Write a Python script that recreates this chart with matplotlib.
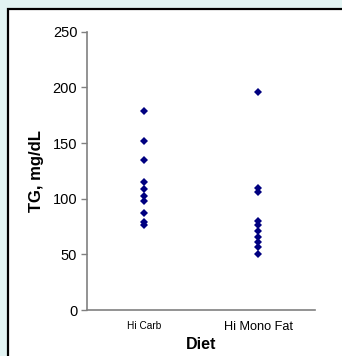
import matplotlib
matplotlib.use('Agg')
import matplotlib.pyplot as plt
from matplotlib.patches import Rectangle

plt.rcParams['font.family'] = ['Liberation Sans', 'DejaVu Sans']

# triglyceride values per diet
diets = ['Hi Carb', 'Hi Mono Fat']
hi_carb = [179, 152, 135, 115, 109, 102, 98, 87, 79, 76]
hi_mono_fat = [196, 110, 106, 80, 76, 71, 66, 61, 57, 50]
yticks = [0, 50, 100, 150, 200, 250]

fig = plt.figure(figsize=(3.42, 3.56), dpi=100)
fig.patch.set_facecolor('#e2f4f3')

# white framed panel behind the axes
panel = Rectangle((8 / 342, -0.05), 1.2, 1 - 9 / 356 + 0.05, transform=fig.transFigure,
                  facecolor='white', edgecolor='black', linewidth=1.6, zorder=-5)
fig.patches.append(panel)

ax = fig.add_axes([0.2544, 0.1292, 0.6667, 0.7818])
ax.set_facecolor('none')
ax.set_zorder(1)

for i, vals in enumerate([hi_carb, hi_mono_fat]):
    ax.plot([i + 1] * len(vals), vals, linestyle='none', marker='D',
            markersize=4.2, color='#000080', markeredgewidth=0)

ax.set_xlim(0.5, 2.5)
ax.set_ylim(0, 250)
ax.set_yticks(yticks)
ax.set_yticklabels([str(t) for t in yticks], fontsize=10.5)
ax.set_xticks([1, 2])
ax.set_xticklabels(diets)
ax.get_xticklabels()[0].set_fontsize(7.3)
ax.get_xticklabels()[1].set_fontsize(9.2)
ax.tick_params(axis='x', length=0, pad=8)
ax.tick_params(axis='y', length=4, width=1, color='#808080', pad=3)

for side in ['top', 'right']:
    ax.spines[side].set_visible(False)
for side in ['left', 'bottom']:
    ax.spines[side].set_color('#808080')
    ax.spines[side].set_linewidth(1.2)

ax.set_ylabel('TG, mg/dL', fontsize=12, fontweight='bold', labelpad=6)
ax.set_xlabel('Diet', fontsize=11.5, fontweight='bold', labelpad=3)

fig.savefig('out.png', dpi=100, facecolor=fig.get_facecolor())
